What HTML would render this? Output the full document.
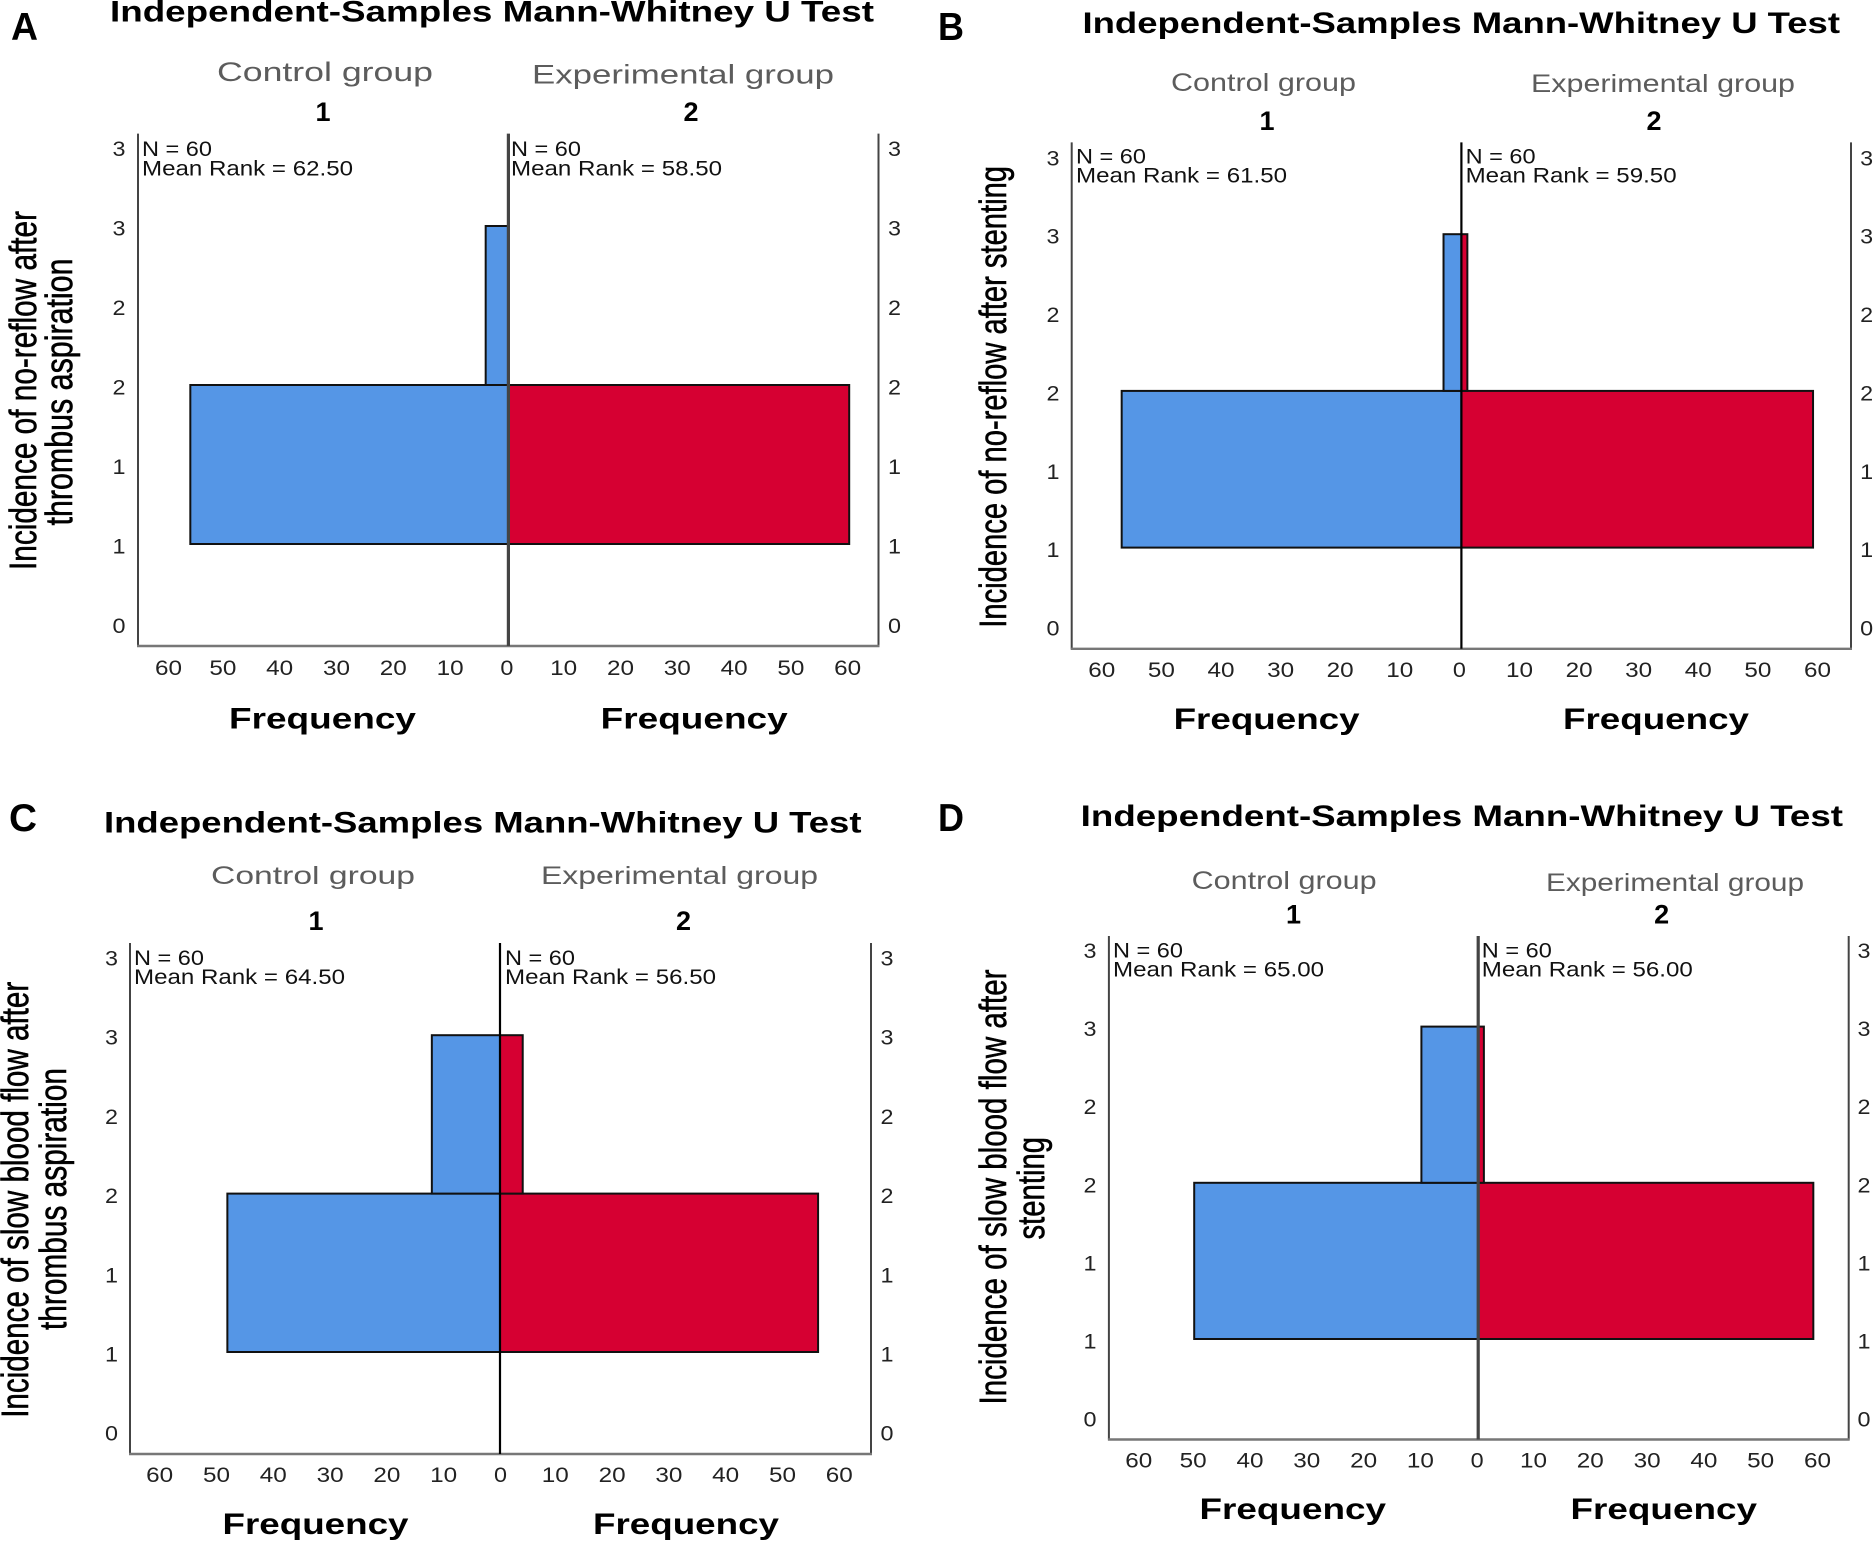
<!DOCTYPE html>
<html>
<head>
<meta charset="utf-8">
<title>Independent-Samples Mann-Whitney U Test panels</title>
<style>
html,body{margin:0;padding:0;background:#fff;}
svg{display:block;font-family:"Liberation Sans",sans-serif;}
</style>
</head>
<body>
<svg id="figure" xmlns="http://www.w3.org/2000/svg" width="1875" height="1542" viewBox="0 0 1875 1542">
<rect width="1875" height="1542" fill="#ffffff"></rect>
</svg>
<script>
// Chart data
const binStarts = [1, 2];
const controlA = [56, 4];
const experimentalA = [60, 0];
const controlB = [57, 3];
const experimentalB = [59, 1];
const controlC = [48, 12];
const experimentalC = [56, 4];
const controlD = [50, 10];
const experimentalD = [59, 1];
const sampleSizes = ['60', '60'];
const meanRanksA = ['62.50', '58.50'];
const meanRanksB = ['61.50', '59.50'];
const meanRanksC = ['64.50', '56.50'];
const meanRanksD = ['65.00', '56.00'];
const xTickValues = [0, 10, 20, 30, 40, 50, 60];
const yTickValues = [0.5, 1, 1.5, 2, 2.5, 3, 3.5];
const yTickLabels = ['0', '1', '1', '2', '2', '3', '3'];

// Panel layout
const panels = [
  {id:'a', letter:'A', control:controlA, experimental:experimentalA, ranks:meanRanksA,
   left:138, center:508.4, right:878.5, top:133.6, bottom:646, yOne:544, unit:159, scale:5.68,
   centerW:3.2, centerC:'#444', tickShift:-1.5, lastTickShift:2.4,
   letterBox:[11,40,27], title:[110,21.5,764], ctrl:[217,81,216,27], exp:[532,83.5,302,27],
   one:323, two:691, numY:121, nX:[142,511], nY:[156,175.5],
   tickY:675, freq:[229,600.7,187,728.5], yLeft:119, yRight:894.5,
   titleLines:[['Incidence of no-reflow after',36,570,359],['thrombus aspiration',72,525.5,267]]},
  {id:'b', letter:'B', control:controlB, experimental:experimentalB, ranks:meanRanksB,
   left:1071.7, center:1461.4, right:1851, top:142.4, bottom:648.8, yOne:547.6, unit:156.7, scale:5.96,
   centerW:2.2, centerC:'#000', tickShift:-2, lastTickShift:0,
   letterBox:[938,40,26], title:[1082.5,33,757.5], ctrl:[1171,91,185,25], exp:[1531,92,264,25],
   one:1267, two:1654, numY:130, nX:[1076,1465.6], nY:[163.5,182.5],
   tickY:677, freq:[1173.6,1563,186,729], yLeft:1053, yRight:1866.6,
   titleLines:[['Incidence of no-reflow after stenting',1006,627.7,461.7]]},
  {id:'c', letter:'C', control:controlC, experimental:experimentalC, ranks:meanRanksC,
   left:130, center:500, right:871, top:943, bottom:1454, yOne:1352, unit:158.4, scale:5.68,
   centerW:2.2, centerC:'#000', tickShift:0.5, lastTickShift:0,
   letterBox:[9,831,28], title:[104,832.5,757.5], ctrl:[211,884,204,25], exp:[541,884,277,25],
   one:316, two:683.5, numY:930, nX:[134,505], nY:[965,984],
   tickY:1482, freq:[222.5,593,186,1534], yLeft:111.5, yRight:887,
   titleLines:[['Incidence of slow blood flow after',28,1417.8,436],['thrombus aspiration',66,1330,262]]},
  {id:'d', letter:'D', control:controlD, experimental:experimentalD, ranks:meanRanksD,
   left:1108.9, center:1478.2, right:1848.7, top:936, bottom:1439.5, yOne:1339, unit:156.2, scale:5.68,
   centerW:3.2, centerC:'#444', tickShift:-1, lastTickShift:2.4,
   letterBox:[938,831,26], title:[1080.7,826,762.3], ctrl:[1191.6,889,185,25], exp:[1546,891,258,25],
   one:1293.5, two:1661.6, numY:923.7, nX:[1113,1481.8], nY:[957.5,976.5],
   tickY:1467.5, freq:[1199.5,1570.5,186.5,1519], yLeft:1090, yRight:1864,
   titleLines:[['Incidence of slow blood flow after',1006,1404.5,435],['stenting',1044,1239.5,102.5]]}
];

const NS = 'http://www.w3.org/2000/svg';
const svg = document.getElementById('figure');

function makeText(parent, str, x, y, size, fill, weight, anchor, len) {
  const t = document.createElementNS(NS, 'text');
  t.setAttribute('x', x);
  t.setAttribute('y', y);
  t.setAttribute('font-size', size);
  t.setAttribute('fill', fill);
  t.setAttribute('font-weight', weight);
  t.setAttribute('text-anchor', anchor);
  if (len) {
    t.setAttribute('textLength', len);
    t.setAttribute('lengthAdjust', 'spacingAndGlyphs');
  }
  t.textContent = str;
  parent.appendChild(t);
  return t;
}

function makeLine(parent, x1, y1, x2, y2, color, width) {
  const l = document.createElementNS(NS, 'line');
  l.setAttribute('x1', x1);
  l.setAttribute('y1', y1);
  l.setAttribute('x2', x2);
  l.setAttribute('y2', y2);
  l.setAttribute('stroke', color);
  l.setAttribute('stroke-width', width);
  parent.appendChild(l);
  return l;
}

function makeBar(parent, x, y, w, h, fill) {
  const r = document.createElementNS(NS, 'rect');
  r.setAttribute('x', x);
  r.setAttribute('y', y);
  r.setAttribute('width', Math.max(0, w));
  r.setAttribute('height', h);
  r.setAttribute('fill', fill);
  r.setAttribute('stroke', '#111111');
  r.setAttribute('stroke-width', 2);
  parent.appendChild(r);
  return r;
}

panels.forEach(function (p) {
  const g = document.createElementNS(NS, 'g');
  
  
  svg.appendChild(g);

  const yAxis = function (v) { return p.yOne - (v - 1) * p.unit; };
  const xLeft = function (v) { return p.center - v * p.scale; };
  const xRight = function (v) { return p.center + v * p.scale; };

  let el;

  el = makeText(g, p.letter, p.letterBox[0], p.letterBox[1], 39, '#000', 'bold', 'start', p.letterBox[2]);
  
  

  el = makeText(g, 'Independent-Samples Mann-Whitney U Test', p.title[0], p.title[1], 30, '#000', 'bold', 'start', p.title[2]);
  
  

  el = makeText(g, 'Control group', p.ctrl[0], p.ctrl[1], p.ctrl[3], '#5c5c5c', 'normal', 'start', p.ctrl[2]);
  
  

  el = makeText(g, 'Experimental group', p.exp[0], p.exp[1], p.exp[3], '#5c5c5c', 'normal', 'start', p.exp[2]);
  
  

  el = makeText(g, '1', p.one, p.numY, 27, '#000', 'bold', 'middle');
  
  

  el = makeText(g, '2', p.two, p.numY, 27, '#000', 'bold', 'middle');
  
  

  // Bars
  binStarts.forEach(function (bin, i) {
    const top = yAxis(bin + 1);
    const h = yAxis(bin) - top;
    const cw = p.control[i] * p.scale;
    const ew = p.experimental[i] * p.scale;
    let bar;
    bar = makeBar(g, xRight(p.experimental[i]) - ew, top, ew, h, '#d60032');
    
    
    bar = makeBar(g, xLeft(p.control[i]), top, cw, h, '#5596e6');
    
    
  });

  // Axes
  el = makeLine(g, p.left, p.top, p.left, p.bottom, '#444', 2);
  
  

  el = makeLine(g, p.right, p.top, p.right, p.bottom, '#444', 2);
  
  

  el = makeLine(g, p.left - 1, p.bottom, p.right + 1, p.bottom, '#777', 2.4);
  
  

  el = makeLine(g, p.center, p.top, p.center, p.bottom, p.centerC, p.centerW);
  
  

  // Group statistics
  [0, 1].forEach(function (s) {
    let t;
    t = makeText(g, 'N = ' + sampleSizes[s], p.nX[s], p.nY[0], 21, '#111', 'normal', 'start', 70);
    
    
    t = makeText(g, 'Mean Rank = ' + p.ranks[s], p.nX[s], p.nY[1], 21, '#111', 'normal', 'start', 211);
    
    
  });

  // Y ticks
  yTickValues.forEach(function (v, i) {
    const by = yAxis(v) + 9.5;
    let t;
    t = makeText(g, yTickLabels[i], p.yLeft, by, 21, '#222', 'normal', 'middle', 13);
    
    
    t = makeText(g, yTickLabels[i], p.yRight, by, 21, '#222', 'normal', 'middle', 13);
    
    
  });

  // X ticks
  xTickValues.forEach(function (v) {
    const len = v === 0 ? 13 : 27;
    let t;
    const extra = v === 60 ? p.lastTickShift : 0;
    t = makeText(g, String(v), xLeft(v) + p.tickShift + extra, p.tickY, 21, '#222', 'normal', 'middle', len);
    
    
    if (v !== 0) {
      t = makeText(g, String(v), xRight(v) - 1.5, p.tickY, 21, '#222', 'normal', 'middle', len);
      
      
    }
  });

  el = makeText(g, 'Frequency', p.freq[0], p.freq[3], 30, '#000', 'bold', 'start', p.freq[2]);
  
  

  el = makeText(g, 'Frequency', p.freq[1], p.freq[3], 30, '#000', 'bold', 'start', p.freq[2]);
  
  

  // Rotated y-axis title
  p.titleLines.forEach(function (line, i) {
    const t = makeText(g, line[0], line[1], line[2], 38, '#000', 'normal', 'start', line[3]);
    t.setAttribute('transform', 'rotate(-90 ' + line[1] + ' ' + line[2] + ')');
    t.setAttribute('stroke', '#000');
    t.setAttribute('stroke-width', '0.6');
    
    
  });
});
</script>
</body>
</html>
